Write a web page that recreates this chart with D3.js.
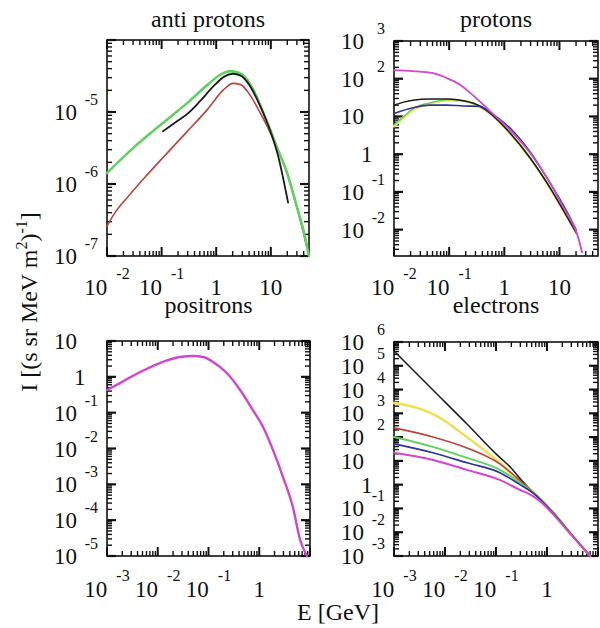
<!DOCTYPE html>
<html>
<head>
<meta charset="utf-8">
<script src="https://cdn.jsdelivr.net/npm/d3@7"></script>
<style>
  html, body { margin: 0; padding: 0; background: #fff; }
</style>
</head>
<body>
<svg id="chart" width="600" height="628" font-family="Liberation Serif, Times New Roman, serif"></svg>
<script>
// ---- spectra: [energy (GeV), intensity] ----
const apGreen = [[0.01,1.42e-6],[0.028,3.0e-6],[0.1,6.8e-6],[0.3,1.35e-5],[0.7,2.4e-5],[1.2,3.3e-5],[1.8,3.7e-5],[2.6,3.5e-5],[3.6,2.9e-5],[5,1.9e-5],[7.2,1.0e-5],[10,5.4e-6],[13,3.2e-6],[20,1.4e-6],[30,4.8e-7],[40,2.2e-7],[50,1.0e-7]];
const apBlack = [[0.106,5.4e-6],[0.2,7.6e-6],[0.3,9.5e-6],[0.5,1.4e-5],[0.9,2.3e-5],[1.4,3.1e-5],[2.0,3.4e-5],[2.8,3.2e-5],[4,2.4e-5],[5.6,1.5e-5],[8.9,6.6e-6],[13.5,2.5e-6],[20.7,5.5e-7]];
const apRed = [[0.01,2.6e-7],[0.014,4.0e-7],[0.024,6.6e-7],[0.05,1.25e-6],[0.11,2.4e-6],[0.29,5.3e-6],[0.68,1.07e-5],[1.33,2.0e-5],[2.03,2.5e-5],[2.8,2.4e-5],[4,1.8e-5],[5.5,1.2e-5],[7.2,8.2e-6],[9.6,5.3e-6],[13,3.2e-6],[20,1.4e-6],[30,4.8e-7],[50,1.0e-7]];

const prMagenta = [[0.01,170],[0.022,160],[0.051,140],[0.104,95],[0.15,72],[0.21,50],[0.36,25],[0.63,11.5],[1.27,4.4],[2.94,1.07],[6.8,0.171],[11.7,0.04],[18,0.013],[21,0.0075],[25.7,0.0025]];
const prBlack = [[0.01,20],[0.015,24],[0.022,27],[0.045,29],[0.1,29],[0.18,26],[0.36,18.9],[0.55,12.3],[1.27,3.63],[2.94,0.79],[6.8,0.126],[11.7,0.033],[20.3,0.0081]];
const prBlue = [[0.01,12],[0.022,17],[0.045,20],[0.09,20],[0.18,19],[0.36,18.5],[0.55,12.8],[1.27,4.9],[2.94,1.14],[6.8,0.17],[11.7,0.045],[20,0.01]];
const prYellow = [[0.01,5.5],[0.015,9.5],[0.022,15],[0.045,22],[0.1,27],[0.18,26],[0.36,18],[0.55,12],[1.27,3.6],[2.94,0.78],[6.8,0.125],[11.7,0.033],[20,0.0085]];
const prGreen = [[0.01,6.0],[0.015,10],[0.022,16],[0.045,23],[0.1,28],[0.18,26],[0.36,18.5],[0.55,12.2],[1.27,3.7],[2.94,0.8],[6.8,0.128],[11.7,0.034],[20,0.0088]];

const poMagenta = [[0.001,0.43],[0.0018,0.67],[0.0045,1.36],[0.011,2.43],[0.027,3.57],[0.05,3.8],[0.078,3.57],[0.123,2.6],[0.23,1.28],[0.42,0.43],[0.75,0.118],[1.19,0.04],[1.87,0.009],[2.94,0.0016],[4.6,2.3e-4],[6.4,2.8e-5],[8.7,1e-5]];

const elBlack = [[0.00105,3.8e5],[0.0058,9.6e3],[0.027,355],[0.105,17.9],[0.2,4.9],[0.33,1.4],[0.53,0.5],[0.8,0.21],[1.31,0.07],[3.24,0.0068],[7.0,0.001]];
const elYellow = [[0.001,2750],[0.0028,1700],[0.008,640],[0.0197,165],[0.0484,39],[0.119,8.3],[0.295,1.3],[0.53,0.5],[0.8,0.21],[1.31,0.07],[3.24,0.0068],[7.0,0.001]];
const elRed = [[0.001,245],[0.0058,102],[0.027,35],[0.119,7.5],[0.295,1.5],[0.53,0.48],[0.8,0.21],[1.31,0.07],[3.24,0.0068],[7.0,0.001]];
const elGreen = [[0.001,102],[0.0058,39],[0.027,13.4],[0.119,4.2],[0.295,1.2],[0.53,0.46],[0.8,0.21],[1.31,0.068],[3.24,0.0067],[7.0,0.001]];
const elBlue = [[0.001,52],[0.0058,22],[0.027,8.3],[0.119,3.2],[0.295,1.0],[0.53,0.45],[0.8,0.2],[1.31,0.064],[3.24,0.0066],[7.0,0.001]];
const elMagenta = [[0.001,22],[0.0058,11],[0.027,4.2],[0.119,1.58],[0.295,0.6],[0.53,0.33],[0.8,0.17],[1.31,0.058],[3.24,0.0064],[7.0,0.001]];

// ---- panel titles, axis ranges and labelled decades ----
const titles = ["anti protons", "protons", "positrons", "electrons"];
const xDomains = [[0.01, 50], [0.01, 50], [0.001, 10], [0.001, 10]];
const yDomains = [[1e-7, 1e-4], [2e-3, 1e3], [1e-5, 10], [1e-3, 1e6]];
const xLabelExps = [[-2, -1, 0, 1], [-2, -1, 0, 1], [-3, -2, -1, 0], [-3, -2, -1, 0]];
const yLabelExps = [[-7, -6, -5], [-2, -1, 0, 1, 2, 3], [-5, -4, -3, -2, -1, 0, 1], [-3, -2, -1, 0, 1, 2, 3, 4, 5, 6]];

const colors = {
  black: "#1c1c1c", green: "#62d062", red: "#b9433f", blue: "#2e3299",
  yellow: "#ece25a", magenta: "#d345cc"
};

const seriesByPanel = [
  [{d: apRed, c: colors.red, w: 1.6}, {d: apGreen, c: colors.green, w: 2.6}, {d: apBlack, c: colors.black, w: 1.8}],
  [{d: prYellow, c: colors.yellow, w: 2.6}, {d: prGreen, c: colors.green, w: 1.4}, {d: prBlack, c: colors.black, w: 1.5},
   {d: prBlue, c: colors.blue, w: 1.6}, {d: prMagenta, c: colors.magenta, w: 1.8}],
  [{d: poMagenta, c: colors.magenta, w: 2.4}],
  [{d: elBlack, c: colors.black, w: 1.5}, {d: elYellow, c: colors.yellow, w: 2.6}, {d: elRed, c: colors.red, w: 1.6},
   {d: elGreen, c: colors.green, w: 2.0}, {d: elBlue, c: colors.blue, w: 1.6}, {d: elMagenta, c: colors.magenta, w: 2.0}]
];

// frame boxes of the four panels
const boxes = [
  {x0: 107, x1: 309, y0: 40, y1: 256},
  {x0: 394, x1: 598, y0: 41, y1: 256},
  {x0: 107, x1: 310, y0: 341, y1: 556},
  {x0: 394, x1: 598, y0: 342, y1: 556}
];
const titleY = [27, 27, 313, 313];
const xLabelBase = [295, 295, 597, 597];

const svg = d3.select("#chart");
const ink = "#111";

function decadesIn(lo, hi) {
  const out = [];
  for (let e = Math.ceil(Math.log10(lo) - 1e-9); e <= Math.floor(Math.log10(hi) + 1e-9); e++) out.push(Math.pow(10, e));
  return out;
}
function minorsIn(lo, hi) {
  const out = [];
  for (let e = Math.floor(Math.log10(lo)) - 1; e <= Math.ceil(Math.log10(hi)); e++) {
    for (let k = 2; k <= 9; k++) {
      const v = k * Math.pow(10, e);
      if (v > lo * 1.0001 && v < hi * 0.9999) out.push(v);
    }
  }
  return out;
}

// inward tick marks as small filled bars along one side of a frame
function tickBars(g, scale, values, len, thick, side, b) {
  const sel = g.append("g").attr("fill", ink).selectAll("rect").data(values).join("rect").attr("fill", ink);
  if (side === "bottom" || side === "top") {
    sel.attr("x", d => scale(d) - thick / 2).attr("width", thick).attr("height", len)
      .attr("y", side === "bottom" ? b.y1 - len : b.y0);
  } else {
    sel.attr("y", d => scale(d) - thick / 2).attr("height", thick).attr("width", len)
      .attr("x", side === "left" ? b.x0 : b.x1 - len);
  }
}

function expText(e) { return e < 0 ? "-" + (-e) : String(e); }

const scales = boxes.map((b, i) => ({
  x: d3.scaleLog().domain(xDomains[i]).range([b.x0, b.x1]),
  y: d3.scaleLog().domain(yDomains[i]).range([b.y1, b.y0])
}));

// tick marks first, underneath everything else
const tickG = svg.append("g");
boxes.forEach((b, i) => {
  const {x, y} = scales[i];
  const xd = xDomains[i], yd = yDomains[i];
  const xMaj = decadesIn(xd[0], xd[1]), xMin = minorsIn(xd[0], xd[1]);
  const yMaj = decadesIn(yd[0], yd[1]), yMin = minorsIn(yd[0], yd[1]);
  ["bottom", "top"].forEach(side => {
    tickBars(tickG, x, xMaj, 9, 2, side, b);
    tickBars(tickG, x, xMin, 5, 1.4, side, b);
  });
  ["left", "right"].forEach(side => {
    tickBars(tickG, y, yMaj, 9, 2.2, side, b);
    tickBars(tickG, y, yMin, 5, 1.4, side, b);
  });
});

boxes.forEach((b, i) => {
  const {x, y} = scales[i];
  const g = svg.append("g");

  // frame
  g.append("rect").attr("x", b.x0).attr("y", b.y0).attr("width", b.x1 - b.x0).attr("height", b.y1 - b.y0)
    .attr("fill", "none").attr("stroke", ink).attr("stroke-width", 1.6);

  // curves
  const line = d3.line().x(d => x(d[0])).y(d => y(d[1])).curve(d3.curveMonotoneX);
  seriesByPanel[i].forEach(s => {
    g.append("path").datum(s.d).attr("d", line)
      .attr("fill", "none").attr("stroke", s.c).attr("stroke-width", s.w)
      .attr("stroke-linejoin", "round").attr("stroke-linecap", "round");
  });

  // x tick labels
  xLabelExps[i].forEach(e => {
    const t = g.append("text").attr("x", x(Math.pow(10, e))).attr("y", xLabelBase[i])
      .attr("text-anchor", "middle").attr("font-size", 23).attr("fill", ink);
    if (e === 0) { t.text("1"); return; }
    t.append("tspan").text("10");
    if (e !== 1) {
      t.append("tspan").attr("font-size", 16).attr("dx", 9).attr("dy", -16).text(expText(e));
    }
  });

  // y tick labels
  yLabelExps[i].forEach(e => {
    const yy = y(Math.pow(10, e)) + 8;
    if (e === 0) {
      g.append("text").attr("x", b.x0 - 33).attr("y", yy).attr("font-size", 23).attr("fill", ink).text("1");
    } else {
      g.append("text").attr("x", b.x0 - 53).attr("y", yy).attr("font-size", 23).attr("fill", ink).text("10");
      if (e !== 1) {
        g.append("text").attr("x", b.x0 - 9).attr("y", yy - 15).attr("text-anchor", "end")
          .attr("font-size", 16).attr("fill", ink).text(expText(e));
      }
    }
  });

  // panel title
  g.append("text").attr("x", (b.x0 + b.x1) / 2).attr("y", titleY[i])
    .attr("text-anchor", "middle").attr("font-size", 24).attr("fill", ink).text(titles[i]);
});

// shared axis titles
svg.append("text").attr("x", 338).attr("y", 620).attr("text-anchor", "middle")
  .attr("font-size", 24).attr("fill", ink).text("E [GeV]");
const yl = svg.append("text").attr("transform", "translate(37,302) rotate(-90)")
  .attr("text-anchor", "middle").attr("font-size", 24).attr("fill", ink);
yl.append("tspan").text("I [(s sr MeV m");
yl.append("tspan").attr("font-size", 16).attr("dy", -10).text("2");
yl.append("tspan").attr("dy", 10).text(")");
yl.append("tspan").attr("font-size", 16).attr("dy", -10).text("-1");
yl.append("tspan").attr("dy", 10).text("]");
</script>
</body>
</html>
